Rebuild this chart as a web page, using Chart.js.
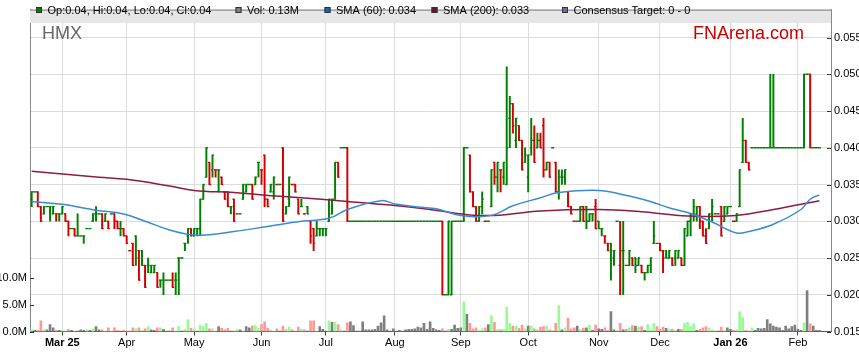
<!DOCTYPE html>
<html>
<head>
<meta charset="utf-8">
<script src="https://cdn.jsdelivr.net/npm/chart.js@4.4.1/dist/chart.umd.min.js"></script>
<style>
  html, body { margin: 0; padding: 0; background: #fff; }
  #wrap { width: 859px; height: 363px; }
</style>
</head>
<body>
<div id="wrap"><canvas id="hmx"></canvas></div>
<script>
// one bar per weekday, index 0 = Mon 17 Feb 2025
// prices in thousandths of a dollar (33 = 0.033)
var opens = [
  33,34,34,32,31,32,32,31,31,31, 31,31,30,29,29,28,28,28,29,29,
  30,31,31,31,30,30,31,31,30,29, 29,28,26,27,28,26,26,24,24,23,
  23,23,22,22,22,22,22,22,25,25, 27,28,29,28,29,29,33,36,38,37,
  37,37,36,34,34,32,33,31,31,33, 34,35,35,35,38,37,39,33,34,34,
  35,35,40,31,33,35,35,33,32,31, 32,30,29,28,29,29,29,30,31,33,
  38,40,40,40,30,30,30,30,30,30, 30,30,30,30,30,30,30,30,30,30,
  30,30,30,30,30,30,30,30,30,30, 30,30,30,30,30,20,20,20,30,30,
  30,30,40,39,34,32,30,32,30,30, 32,38,36,37,36,35,44,46,41,43,
  41,38,36,40,41,40,41,43,37,38, 40,38,34,36,36,34,32,30,30,30,
  32,32,30,31,32,30,29,28,27,27, 25,30,24,26,24,24,25,25,24,24,
  23,23,24,27,27,27,26,26,25,25, 25,25,25,24,28,30,31,31,32,30,
  28,29,31,31,31,32,30,31,32,30, 30,32,38,41,38,40,40,40,40,40,
  40,40,40,40,40,40,40,40,40,40, 40,40,40,50,50,40,40,40
];
var highs = [
  34,34,34,32,32,32,32,32,31,31, 32,31,30,29,29,31,28,28,29,29,
  31,32,31,31,31,30,31,31,30,30, 29,28,26,27,28,26,26,24,25,24,
  24,23,22,23,22,22,23,23,25,25, 27,29,29,29,29,33,35,40,38,39,
  37,37,36,34,34,32,33,31,31,35, 35,35,35,36,38,37,39,33,35,36,
  35,35,40,32,36,35,35,33,33,31, 32,30,29,30,29,29,29,33,33,38,
  38,40,40,40,30,30,30,30,30,30, 30,30,30,30,30,30,30,30,30,30,
  30,30,30,30,30,30,30,30,30,30, 30,30,30,30,30,20,30,30,30,30,
  30,40,40,39,34,32,32,34,30,30, 37,38,38,37,38,51,47,46,44,43,
  41,40,39,44,43,42,42,44,38,38, 40,38,37,37,37,34,32,30,30,32,
  32,32,31,31,33,30,29,28,27,27, 26,30,30,30,24,26,25,25,25,24,
  23,24,25,30,27,27,26,26,26,25, 26,26,25,29,30,31,33,32,32,30,
  29,31,33,31,31,32,32,32,32,30, 31,37,44,41,38,40,40,40,40,40,
  40,50,50,40,40,40,40,40,40,40, 40,40,50,50,50,40,40,40
];
var lows = [
  32,34,32,30,31,32,30,31,30,30, 31,30,28,29,28,28,28,27,29,29,
  30,30,31,29,30,29,31,29,29,28, 28,27,26,24,24,22,24,21,23,23,
  23,21,21,20,22,22,21,20,20,25, 26,27,28,28,28,28,33,36,35,36,
  36,34,35,33,32,31,30,31,31,33, 34,35,33,35,36,35,32,32,34,33,
  35,35,30,31,32,35,34,31,32,31, 31,27,26,28,28,28,28,30,31,33,
  36,40,40,30,30,30,30,30,30,30, 30,30,30,30,30,30,30,30,30,30,
  30,30,30,30,30,30,30,30,30,30, 30,30,30,30,20,20,20,20,30,30,
  30,30,40,34,32,30,30,31,30,30, 32,35,34,34,35,35,40,42,40,41,
  37,38,34,39,38,40,40,36,37,36, 40,34,33,35,35,32,31,30,30,30,
  30,29,30,30,29,29,28,27,26,22, 24,30,20,20,24,24,24,23,24,23,
  22,23,23,27,27,26,23,25,25,24, 24,25,24,24,28,28,30,30,29,28,
  27,29,30,31,31,28,30,31,32,30, 30,32,38,38,37,40,40,40,40,40,
  40,40,40,40,40,40,40,40,40,40, 40,40,40,50,40,40,40,40
];
var closes = [
  34,34,32,30,32,32,32,32,31,31, 32,30,29,29,28,28,28,28,29,29,
  31,31,31,29,31,29,31,30,29,29, 28,27,26,24,25,22,24,21,24,24,
  24,21,22,22,22,22,21,22,25,25, 27,29,28,29,29,33,35,40,35,39,
  37,37,35,33,32,32,30,31,31,35, 35,35,33,36,38,37,33,32,35,36,
  35,35,30,32,36,35,34,31,32,31, 31,28,27,29,29,29,29,33,33,38,
  36,40,40,30,30,30,30,30,30,30, 30,30,30,30,30,30,30,30,30,30,
  30,30,30,30,30,30,30,30,30,30, 30,30,30,30,20,20,30,30,30,30,
  30,40,40,34,32,30,32,33,30,30, 37,36,38,37,38,40,46,43,44,41,
  37,39,39,41,38,41,40,37,38,36, 40,34,36,36,37,32,31,30,30,32,
  30,30,31,31,29,29,29,28,26,26, 26,30,26,26,24,26,24,24,25,23,
  23,24,25,28,27,26,25,25,26,24, 26,26,24,29,30,31,32,32,30,28,
  27,31,32,31,31,28,32,32,32,30, 31,37,41,38,37,40,40,40,40,40,
  40,40,40,40,40,40,40,40,40,40, 40,40,50,50,40,40,40,40
];
// volume, millions
var volumes = [
  0.3,0.2,0.2,2.0,0.4,0.3,1.3,0.7,0.2,0.2, 0.2,0.1,0.4,0.2,0.1,0.1,0.3,0.2,0.3,0.2,
  0.5,0.9,0.3,0.3,0.1,0.7,0.1,0.7,0.2,0.1, 0.2,0.1,0.1,0.7,0.5,0.7,0.2,0.5,0.9,0.3,
  0.2,0.7,0.7,0.4,0.1,0.1,0.7,0.1,1.0,0.1, 0.4,2.2,0.6,0.4,0.1,1.2,0.9,1.5,0.5,0.5,
  0.1,0.9,0.6,0.3,0.6,0.1,0.1,0.4,0.3,0.1, 0.9,0.7,1.0,1.1,0.6,1.3,1.8,0.6,0.3,0.1,
  0.5,0.1,1.0,0.4,0.8,0.3,0.1,0.8,0.4,0.3, 0.1,2.0,2.0,0.1,0.9,0.4,0.1,2.0,1.7,1.7,
  1.3,0.3,0.1,1.6,1.8,1.1,0.1,0.1,1.8,0.3, 0.3,0.3,0.4,1.0,1.6,2.9,0.3,0.1,0.5,0.1,
  0.2,0.1,0.3,0.4,0.4,0.5,0.8,0.7,1.5,0.4, 1.8,0.6,0.3,0.2,0.5,0.1,0.4,0.4,1.2,0.6,
  0.7,5.5,3.2,1.5,0.5,0.7,0.2,0.5,0.7,1.3, 2.9,1.7,0.4,0.3,0.4,4.5,1.5,1.0,1.0,0.6,
  1.2,0.5,1.0,1.0,0.5,0.4,0.8,0.9,1.0,0.3, 0.2,1.5,4.8,0.3,0.7,2.5,0.5,0.7,1.0,0.4,
  0.6,0.7,1.2,0.2,1.2,0.5,0.4,0.7,0.2,3.7, 0.3,0.2,1.5,0.3,0.4,0.7,1.1,1.0,0.8,0.9,
  0.2,1.3,0.3,1.5,0.9,0.4,0.8,0.6,0.4,0.4, 0.2,0.4,0.4,1.5,1.7,0.9,1.4,0.2,0.4,0.7,
  0.9,0.7,0.3,0.1,0.1,0.8,0.2,0.7,0.4,0.2, 0.3,3.7,2.6,0.2,0.1,0.7,0.2,0.6,0.5,0.6,
  2.2,1.4,1.0,0.8,0.7,0.2,1.0,0.5,0.9,1.2, 0.4,0.2,1.6,7.6,1.4,1.0,0.2,0.2
];

// moving averages at a few days (thousandths)
var sma60Days = [0, 10, 21, 30, 37, 45, 50, 55, 66, 77, 88, 97, 103, 114, 119, 127, 132, 140, 150, 157, 166, 172, 185, 193, 201, 209, 214, 222, 230, 234, 242, 251, 254, 257];
var sma60 = [32.7, 32.3, 31.5, 31.0, 30.0, 28.8, 28.3, 28.1, 28.6, 29.3, 30.0, 30.4, 31.6, 32.8, 32.3, 31.9, 31.7, 30.8, 30.8, 32.1, 33.2, 33.9, 34.2, 33.6, 32.8, 31.7, 31.2, 29.9, 28.4, 28.6, 29.6, 31.6, 33.0, 33.6];
var sma200Days = [0, 22, 31, 45, 53, 66, 81, 88, 103, 117, 130, 142, 151, 166, 185, 199, 214, 230, 242, 257];
var sma200 = [36.8, 36.0, 35.7, 34.8, 34.2, 33.9, 33.4, 33.2, 32.7, 32.2, 31.6, 30.9, 30.8, 31.4, 31.6, 31.3, 30.7, 30.8, 31.6, 32.8];

var monthTicks = [10, 31, 53, 75, 96, 118.5, 140, 162, 185, 205, 228, 250];
var monthLabels = ["Mar 25", "Apr", "May", "Jun", "Jul", "Aug", "Sep", "Oct", "Nov", "Dec", "Jan 26", "Feb"];
var priceTicks = [0.015, 0.02, 0.025, 0.03, 0.035, 0.04, 0.045, 0.05, 0.055];
var volTicks = [0, 5, 10];

var FONT = '"Liberation Sans", Arial, sans-serif';
var GREEN = '#008000', RED = '#d40000';

var barColors = [], volColors = [];
for (var i = 0; i < closes.length; i++) {
  var prev = i === 0 ? opens[0] : closes[i - 1];
  barColors.push(closes[i] >= prev ? GREEN : RED);
  volColors.push(closes[i] > prev ? '#98fb98' : (closes[i] < prev ? '#ff9999' : '#808080'));
}

var ohlcTicks = {
  id: 'ohlcTicks',
  afterDatasetDraw: function(chart, args) {
    if (args.index !== 2) return;
    var ctx = chart.ctx, a = chart.chartArea;
    var xs = chart.scales.x, ys = chart.scales.y;
    var half = (xs.getPixelForValue(1) - xs.getPixelForValue(0)) / 2;
    ctx.save();
    ctx.beginPath();
    ctx.rect(a.left, a.top, a.right - a.left, a.bottom - a.top);
    ctx.clip();
    ctx.lineWidth = 1.3;
    for (var i = 0; i < closes.length; i++) {
      var x = xs.getPixelForValue(i);
      var yo = ys.getPixelForValue(opens[i] / 1000);
      var yc = ys.getPixelForValue(closes[i] / 1000);
      ctx.strokeStyle = barColors[i];
      ctx.beginPath();
      ctx.moveTo(x - half, yo); ctx.lineTo(x + 0.6, yo);
      ctx.moveTo(x - 0.6, yc); ctx.lineTo(x + half, yc);
      ctx.stroke();
    }
    ctx.restore();
  }
};

var frame = {
  id: 'frame',
  afterDraw: function(chart) {
    var ctx = chart.ctx, a = chart.chartArea;
    var ys = chart.scales.y, yv = chart.scales.yv;
    ctx.save();
    // inside tick marks
    ctx.strokeStyle = '#333';
    ctx.lineWidth = 1;
    ctx.beginPath();
    priceTicks.forEach(function(v) {
      var y = Math.round(ys.getPixelForValue(v)) + 0.5;
      ctx.moveTo(a.right - 4, y); ctx.lineTo(a.right, y);
    });
    volTicks.forEach(function(v) {
      var y = Math.round(yv.getPixelForValue(v)) + 0.5;
      ctx.moveTo(a.left, y); ctx.lineTo(a.left + 4, y);
    });
    ctx.stroke();

    // legend band
    ctx.fillStyle = '#e6e6e6';
    ctx.fillRect(a.left, a.top, a.right - a.left, 13.5);
    ctx.strokeStyle = '#777';
    ctx.beginPath();
    ctx.moveTo(a.left, a.top + 0.5); ctx.lineTo(a.right, a.top + 0.5);
    ctx.stroke();

    var items = [
      [36, GREEN, 'Op:0.04, Hi:0.04, Lo:0.04, Cl:0.04'],
      [235.5, '#808080', 'Vol: 0.13M'],
      [324.5, '#1f63a8', 'SMA (60): 0.034'],
      [431.5, '#7a0f2a', 'SMA (200): 0.033'],
      [562, '#6c6c96', 'Consensus Target: 0 - 0']
    ];
    ctx.font = '11px ' + FONT;
    ctx.textBaseline = 'middle';
    items.forEach(function(it) {
      ctx.fillStyle = it[1];
      ctx.fillRect(it[0], 7, 6, 6);
      ctx.strokeStyle = '#333';
      ctx.strokeRect(it[0] + 0.5, 7.5, 5, 5);
      ctx.fillStyle = '#000';
      ctx.fillText(it[2], it[0] + 11.5, 10.5);
    });

    ctx.textBaseline = 'alphabetic';
    ctx.font = '18px ' + FONT;
    ctx.fillStyle = '#666';
    ctx.fillText('HMX', 42, 39);
    ctx.fillStyle = '#cc0000';
    ctx.fillText('FNArena.com', 693, 39);
    ctx.restore();
  }
};

var ctx = document.getElementById('hmx').getContext('2d');
new Chart(ctx, {
  type: 'bar',
  data: {
    datasets: [{
      type: 'line',
      label: 'SMA (60)',
      data: sma60Days.map(function(d, k) { return { x: d, y: sma60[k] / 1000 }; }),
      borderColor: '#3a8bd0',
      borderWidth: 1.5,
      pointRadius: 0,
      tension: 0.4,
      yAxisID: 'y',
      order: 0
    }, {
      type: 'line',
      label: 'SMA (200)',
      data: sma200Days.map(function(d, k) { return { x: d, y: sma200[k] / 1000 }; }),
      borderColor: '#8c1c40',
      borderWidth: 1.5,
      pointRadius: 0,
      tension: 0.4,
      yAxisID: 'y',
      order: 1
    }, {
      label: 'price',
      data: closes.map(function(c, i) { return { x: i, y: [lows[i] / 1000, highs[i] / 1000] }; }),
      backgroundColor: barColors,
      barThickness: 1.3,
      grouped: false,
      yAxisID: 'y',
      order: 2
    }, {
      label: 'Vol',
      data: volumes.map(function(v, i) { return { x: i, y: v }; }),
      backgroundColor: volColors,
      barThickness: 2,
      grouped: false,
      yAxisID: 'yv',
      order: 3
    }]
  },
  options: {
    responsive: true,
    maintainAspectRatio: false,
    animation: false,
    events: [],
    layout: { padding: { top: 3, left: 0, right: 0, bottom: 0 } },
    plugins: { legend: { display: false }, tooltip: { enabled: false } },
    scales: {
      x: {
        type: 'linear',
        min: -0.54,
        max: 260.8,
        offset: false,
        grid: { offset: false, color: '#dcdcdc', tickColor: '#444', tickLength: 4 },
        border: { color: '#555' },
        afterBuildTicks: function(s) { s.ticks = monthTicks.map(function(v) { return { value: v }; }); },
        afterFit: function(s) { s.height = 31.5; },
        ticks: {
          autoSkip: false,
          maxRotation: 0,
          padding: 1,
          color: '#000',
          font: function(c) { return { family: FONT, size: 11, weight: (c.index === 0 || c.index === 10) ? 'bold' : 'normal' }; },
          callback: function(v) { return monthLabels[monthTicks.indexOf(v)]; }
        }
      },
      y: {
        position: 'right',
        min: 0.015,
        max: 0.0588,
        grid: { color: '#dcdcdc', drawTicks: false },
        border: { color: '#888' },
        afterBuildTicks: function(s) { s.ticks = priceTicks.map(function(v) { return { value: v }; }); },
        afterFit: function(s) { s.width = 28; },
        ticks: {
          padding: 3,
          color: '#000',
          font: { family: FONT, size: 11 },
          callback: function(v) { return v.toFixed(3); }
        }
      },
      yv: {
        position: 'left',
        min: 0,
        max: 59.7,
        grid: { display: false, drawTicks: false },
        border: { color: '#888' },
        afterBuildTicks: function(s) { s.ticks = volTicks.map(function(v) { return { value: v }; }); },
        afterFit: function(s) { s.width = 30; },
        ticks: {
          padding: 3,
          color: '#000',
          font: { family: FONT, size: 11 },
          callback: function(v) { return v.toFixed(1) + 'M'; }
        }
      }
    }
  },
  plugins: [ohlcTicks, frame]
});
</script>
</body>
</html>
